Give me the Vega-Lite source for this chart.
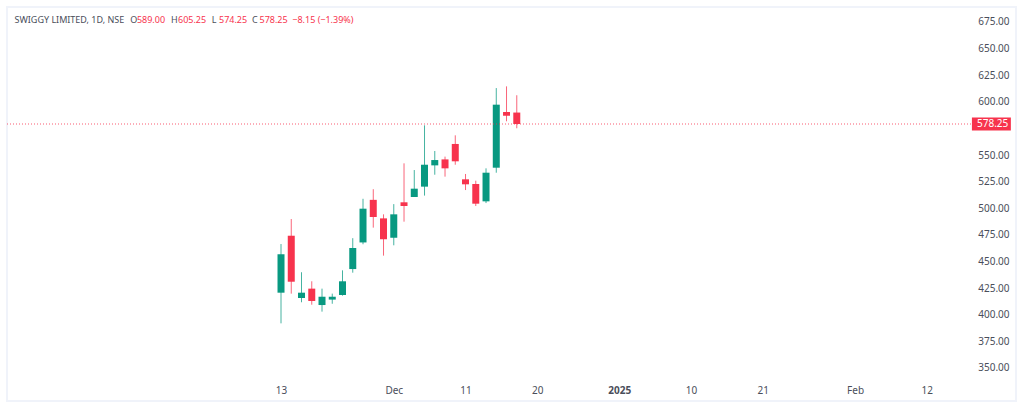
{
  "$schema": "https://vega.github.io/schema/vega-lite/v6.json",
  "description": "Swiggy daily candlesticks, NSE",
  "width": 1009,
  "height": 394,
  "autosize": "none",
  "padding": {"left": 7, "top": 7, "right": 8, "bottom": 9},
  "background": "white",
  "view": {"stroke": "#f0f3fa", "strokeWidth": 2},
  "config": {
    "font": "Noto Sans",
    "axisY": {
      "title": null,
      "grid": false,
      "domain": false,
      "ticks": false,
      "format": ".2f",
      "labelFontSize": 10,
      "labelColor": "#4a4e5a",
      "labelAlign": "right",
      "labelPadding": -7,
      "labelOffset": 1,
      "labelOverlap": false
    }
  },
  "datasets": {
    "candles": [
      {"bar": 0, "date": "2024-11-13", "open": 419.8, "high": 465.5, "low": 391, "close": 455.9},
      {"bar": 1, "date": "2024-11-14", "open": 473.3, "high": 489, "low": 418.9, "close": 430.1},
      {"bar": 2, "date": "2024-11-18", "open": 414.8, "high": 439, "low": 410.8, "close": 419.8},
      {"bar": 3, "date": "2024-11-19", "open": 423.6, "high": 430.5, "low": 408.5, "close": 412},
      {"bar": 4, "date": "2024-11-21", "open": 408.2, "high": 423.6, "low": 402, "close": 416},
      {"bar": 5, "date": "2024-11-22", "open": 413.3, "high": 418.9, "low": 409.4, "close": 416},
      {"bar": 6, "date": "2024-11-25", "open": 417.6, "high": 440.8, "low": 417, "close": 430.5},
      {"bar": 7, "date": "2024-11-26", "open": 442, "high": 471, "low": 438.6, "close": 461.8},
      {"bar": 8, "date": "2024-11-27", "open": 467, "high": 508, "low": 465.3, "close": 498.7},
      {"bar": 9, "date": "2024-11-28", "open": 507, "high": 517, "low": 480.9, "close": 490.9},
      {"bar": 10, "date": "2024-11-29", "open": 489.6, "high": 493.4, "low": 454.6, "close": 470},
      {"bar": 11, "date": "2024-12-02", "open": 471.4, "high": 503, "low": 464.3, "close": 493.4},
      {"bar": 12, "date": "2024-12-03", "open": 504.7, "high": 541.3, "low": 486.5, "close": 501.2},
      {"bar": 13, "date": "2024-12-04", "open": 509.7, "high": 535, "low": 509.7, "close": 517.5},
      {"bar": 14, "date": "2024-12-05", "open": 519.4, "high": 577, "low": 511, "close": 540},
      {"bar": 15, "date": "2024-12-06", "open": 539.4, "high": 552.9, "low": 530.6, "close": 544.4},
      {"bar": 16, "date": "2024-12-09", "open": 545, "high": 547.6, "low": 528.8, "close": 536.6},
      {"bar": 17, "date": "2024-12-10", "open": 559.5, "high": 567.6, "low": 540, "close": 543.2},
      {"bar": 18, "date": "2024-12-11", "open": 526.3, "high": 531.3, "low": 516.2, "close": 521.6},
      {"bar": 19, "date": "2024-12-12", "open": 521.9, "high": 525, "low": 501.2, "close": 503.4},
      {"bar": 20, "date": "2024-12-13", "open": 505.6, "high": 536.6, "low": 504, "close": 532.5},
      {"bar": 21, "date": "2024-12-16", "open": 537.2, "high": 612, "low": 532.5, "close": 596.4},
      {"bar": 22, "date": "2024-12-17", "open": 589.5, "high": 613.6, "low": 580.8, "close": 586},
      {"bar": 23, "date": "2024-12-18", "open": 589, "high": 605.25, "low": 574.25, "close": 578.25}
    ],
    "header": [
      {"text": "SWIGGY LIMITED, 1D, NSE", "bar": -26, "price": 675.9, "kind": "label"},
      {"text": "O", "bar": -14.7, "price": 675.9, "kind": "label"},
      {"text": "589.00", "bar": -14.06, "price": 675.9, "kind": "value"},
      {"text": "H", "bar": -10.73, "price": 675.9, "kind": "label"},
      {"text": "605.25", "bar": -10.05, "price": 675.9, "kind": "value"},
      {"text": "L", "bar": -6.75, "price": 675.9, "kind": "label"},
      {"text": "574.25", "bar": -6.05, "price": 675.9, "kind": "value"},
      {"text": "C", "bar": -2.83, "price": 675.9, "kind": "label"},
      {"text": "578.25", "bar": -2.1, "price": 675.9, "kind": "value"},
      {"text": "−8.15 (−1.39%)", "bar": 1.1, "price": 675.9, "kind": "value"}
    ]
  },
  "data": {"name": "candles"},
  "encoding": {
    "x": {
      "field": "bar",
      "type": "quantitative",
      "scale": {"domain": [-26.73, 71.7], "nice": false, "zero": false, "padding": 0},
      "axis": {
        "title": null,
        "grid": false,
        "domain": false,
        "ticks": false,
        "values": [0, 11, 18, 25, 33, 40, 47, 56, 63],
        "labelExpr": "datum.value==0?'13':datum.value==11?'Dec':datum.value==18?'11':datum.value==25?'20':datum.value==33?'2025':datum.value==40?'10':datum.value==47?'21':datum.value==56?'Feb':'12'",
        "labelFontWeight": {"expr": "datum.value==33?'bold':'normal'"},
        "labelFontSize": 10,
        "labelColor": "#4a4e5a",
        "labelPadding": -16,
        "labelOverlap": false
      }
    }
  },
  "layer": [
    {
      "mark": {"type": "rule", "strokeWidth": 1, "opacity": 0.75},
      "encoding": {
        "y": {
          "field": "low",
          "type": "quantitative",
          "scale": {"domain": [318.06, 688.15], "nice": false, "zero": false},
          "axis": {"orient": "right", "values": [350, 375, 400, 425, 450, 475, 500, 525, 550, 600, 625, 650, 675]}
        },
        "y2": {"field": "high"},
        "color": {
          "condition": {"test": "datum.close>=datum.open", "value": "#089981"},
          "value": "#f7334d"
        }
      }
    },
    {
      "mark": {"type": "bar", "width": 7},
      "encoding": {
        "y": {
          "field": "open",
          "type": "quantitative",
          "axis": {"orient": "right", "values": [350, 375, 400, 425, 450, 475, 500, 525, 550, 600, 625, 650, 675]}
        },
        "y2": {"field": "close"},
        "color": {
          "condition": {"test": "datum.close>=datum.open", "value": "#089981"},
          "value": "#f7334d"
        }
      }
    },
    {
      "data": {"values": [{"bar": -26.73, "bar2": 67.4, "price": 578.25}]},
      "mark": {"type": "rule", "color": "#f7334d", "strokeWidth": 1, "strokeDash": [1, 2], "opacity": 0.8},
      "encoding": {
        "x2": {"field": "bar2"},
        "y": {
          "field": "price",
          "type": "quantitative",
          "axis": {"orient": "right", "values": [350, 375, 400, 425, 450, 475, 500, 525, 550, 600, 625, 650, 675]}
        }
      }
    },
    {
      "data": {"values": [{"bar": 67.4, "bar2": 71.2, "top": 584.4, "bottom": 572.1}]},
      "mark": {"type": "rect", "color": "#f7334d"},
      "encoding": {
        "x2": {"field": "bar2"},
        "y": {
          "field": "top",
          "type": "quantitative",
          "axis": {"orient": "right", "values": [350, 375, 400, 425, 450, 475, 500, 525, 550, 600, 625, 650, 675]}
        },
        "y2": {"field": "bottom"}
      }
    },
    {
      "data": {"values": [{"bar": 70.95, "price": 578.25, "text": "578.25"}]},
      "mark": {"type": "text", "color": "white", "fontSize": 10, "align": "right", "baseline": "middle"},
      "encoding": {
        "y": {
          "field": "price",
          "type": "quantitative",
          "axis": {"orient": "right", "values": [350, 375, 400, 425, 450, 475, 500, 525, 550, 600, 625, 650, 675]}
        },
        "text": {"field": "text"}
      }
    },
    {
      "data": {"name": "header"},
      "mark": {"type": "text", "fontSize": 9, "align": "left", "baseline": "middle"},
      "encoding": {
        "y": {
          "field": "price",
          "type": "quantitative",
          "axis": {"orient": "right", "values": [350, 375, 400, 425, 450, 475, 500, 525, 550, 600, 625, 650, 675]}
        },
        "text": {"field": "text"},
        "color": {
          "field": "kind",
          "type": "nominal",
          "scale": {"domain": ["label", "value"], "range": ["#4a4e5a", "#f7334d"]},
          "legend": null
        }
      }
    }
  ]
}
